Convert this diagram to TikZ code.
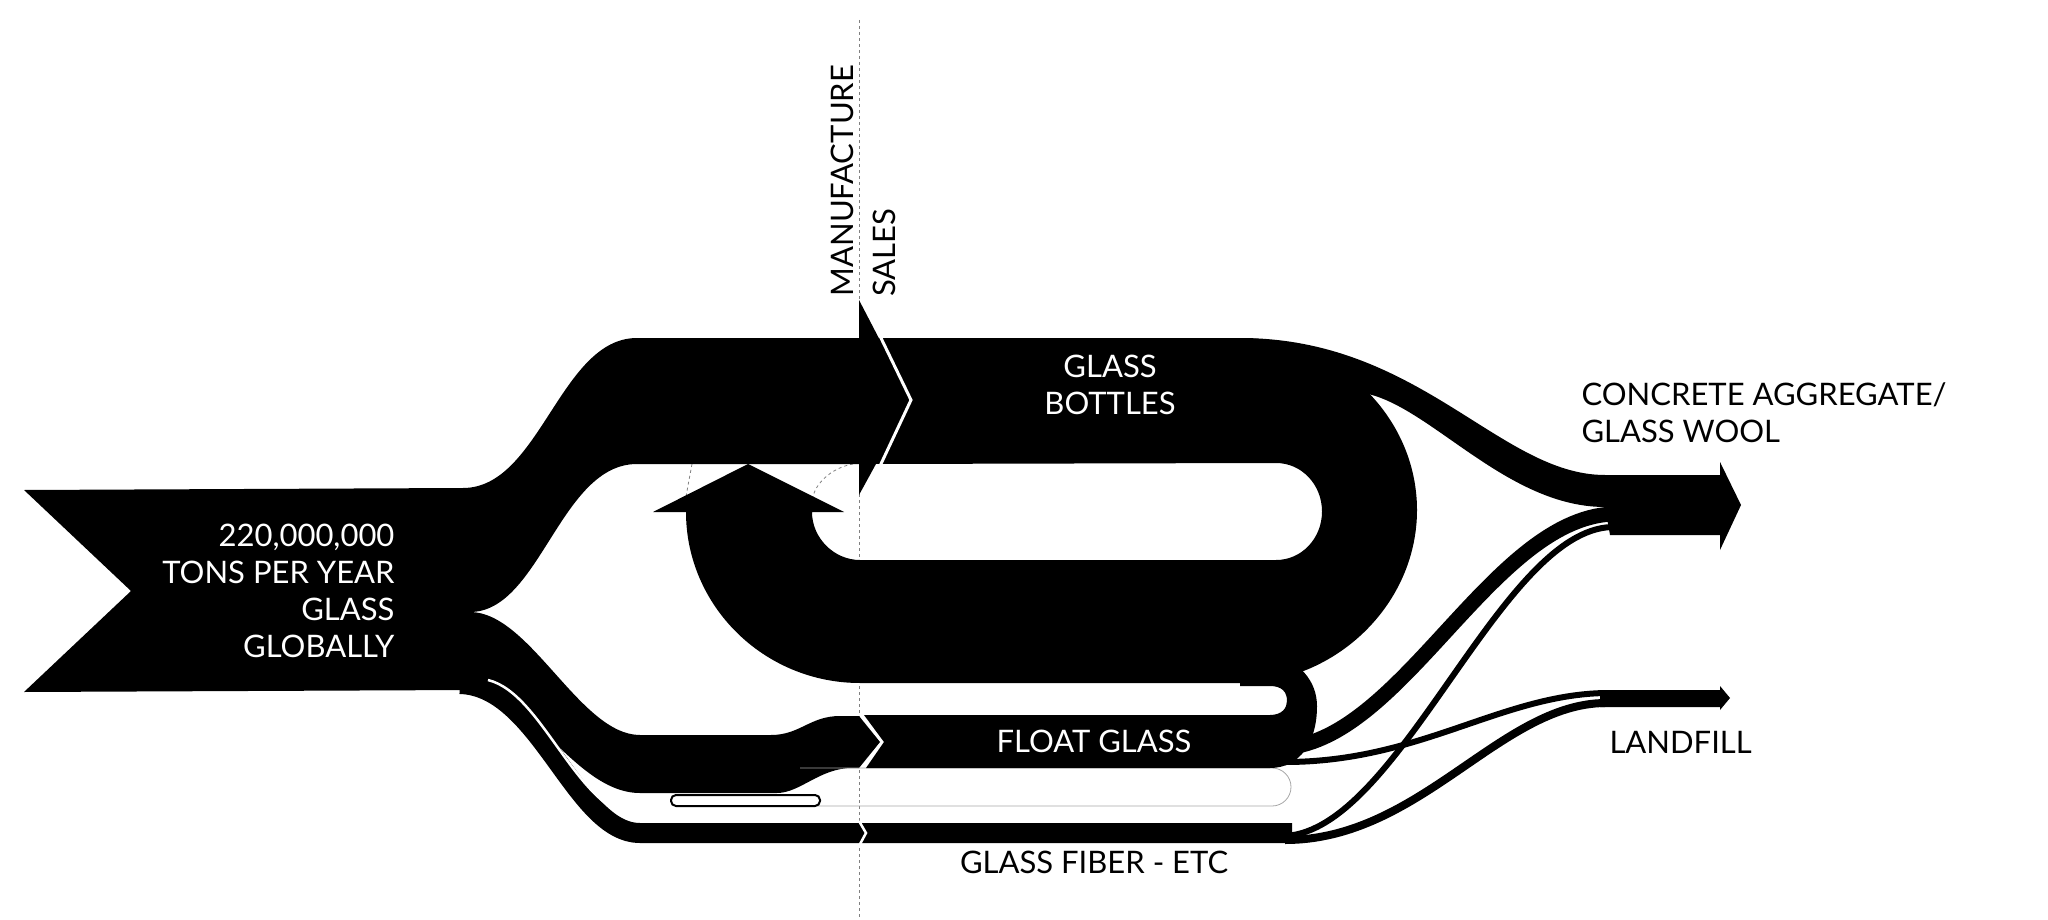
\documentclass[tikz,border=0pt]{standalone}
\usepackage{fontspec}
\setmainfont{Lato}
\begin{document}
\begin{tikzpicture}[x=1pt,y=-1pt,
  lbl/.style={font=\fontsize{31}{37}\selectfont},
  wl/.style={lbl,text=white,align=center},
  flow/.style={fill=black},
  sep/.style={draw=white,line width=3pt,line join=miter}]
\useasboundingbox (0,0) rectangle (2048,920);
% dashed divider
\coordinate (dtop) at (859,20);
\coordinate (dbot) at (859,920);
\draw[gray,dashed,line width=0.8pt] (dtop) -- (dbot);
\draw[gray,dashed,line width=0.8pt] (692,464) .. controls (690,475) and (688,485) .. (686,497);
\draw[gray,dashed,line width=0.8pt] (853,464) .. controls (830,468) and (815,485) .. (813,497);
% fiber band
\draw[line width=20pt] (460,684) .. controls (540,686) and (575,833) .. (640,833) -- (1292,833);
% source + top branch
\fill[flow] (24,490) -- (463,488) .. controls (540,488) and (560,338) .. (637,338) -- (859,338) -- (859,300) -- (911,400) -- (859,495) -- (859,464) -- (637,464) .. controls (560,464) and (540,612) .. (470,612)
 .. controls (530,612) and (580,735) .. (640,735) -- (771,735) .. controls (800,735) and (810,716) .. (840,716) -- (859,716) -- (880,742) -- (859,768) -- (852,768) .. controls (820,768) and (800,793) .. (777,793) -- (640,793) .. controls (575,793) and (530,690) .. (470,690) -- (24,692) -- (131,591) -- cycle;
\draw[white,line width=2.5pt] (488,680) .. controls (545,694) and (578,818) .. (645,819);
% glass wool tiny
\draw[gray!70,line width=0.8pt,rounded corners=19pt] (800,768) -- (1291,768) -- (1291,806) -- (800,806);
\draw[black,line width=2pt,rounded corners=5pt,fill=white] (671,795) rectangle (820,806);
% bottles loop with return arrow
\fill[flow] (870,338) -- (1240,338) .. controls (1335,338) and (1417,415) .. (1417,510) .. controls (1417,605) and (1335,683) .. (1240,683) -- (860,683) .. controls (764,683) and (686,606) .. (686,512) -- (653,512) -- (748,464) -- (844,512) -- (812,512) .. controls (812,538) and (834,560) .. (860,560) -- (1276,560) .. controls (1302,560) and (1322,538) .. (1322,511.5) .. controls (1322,485) and (1302,463) .. (1276,463) -- (870,464) -- cycle;
\draw[sep] (880,336) -- (911,400) -- (880,466);
% float glass
\fill[flow] (864,715) -- (1270,715) .. controls (1282,715) and (1287,708) .. (1287,701) .. controls (1287,692) and (1282,686) .. (1270,686) -- (1240,686) -- (1240,660) -- (1270,657) .. controls (1300,659) and (1317,682) .. (1317,706) .. controls (1317,742) and (1300,768) .. (1270,768) -- (866,768) -- (884,742) -- cycle;
\draw[white,line width=2.5pt] (859,821) -- (866,833) -- (859,846);
% concrete flow
\fill[flow] (1240,338) .. controls (1420,338) and (1500,475) .. (1605,475) -- (1720,475) -- (1720,462) -- (1741,505) -- (1720,550) -- (1720,535) -- (1610,535) -- (1605,507) .. controls (1500,507) and (1420,392) .. (1352,392) -- (1330,380) -- cycle;
% landfill arrow
\fill[flow] (1600,690) -- (1720,690) -- (1720,686) -- (1730,698) -- (1720,710) -- (1720,707) -- (1600,707) -- cycle;
% fan lines
\draw[line width=15pt] (1280,748) .. controls (1400,745) and (1490,520) .. (1612,514);
\draw[line width=6pt] (1285,762) .. controls (1420,762) and (1500,695) .. (1605,693);
\draw[line width=6pt] (1285,836) .. controls (1400,830) and (1500,530) .. (1612,527);
\draw[line width=8pt] (1285,840) .. controls (1420,840) and (1500,704) .. (1605,703);
% texts
\node[wl,align=right,anchor=east] (src) at (398,591) {220,000,000\\TONS PER YEAR\\GLASS\\GLOBALLY};
\node[wl] (bot) at (1110,385) {GLASS\\BOTTLES};
\node[wl] (flt) at (1094,741) {FLOAT GLASS};
\node[lbl] (fib) at (1094,862) {GLASS FIBER - ETC};
\node[lbl,align=left,anchor=west] (con) at (1578,413) {CONCRETE AGGREGATE/\\GLASS WOOL};
\node[lbl,anchor=west] (lan) at (1606,742) {LANDFILL};
\node[lbl,rotate=90,anchor=west] (man) at (842,300) {MANUFACTURE};
\node[lbl,rotate=90,anchor=west] (sal) at (884,300) {SALES};
\end{tikzpicture}
\end{document}
